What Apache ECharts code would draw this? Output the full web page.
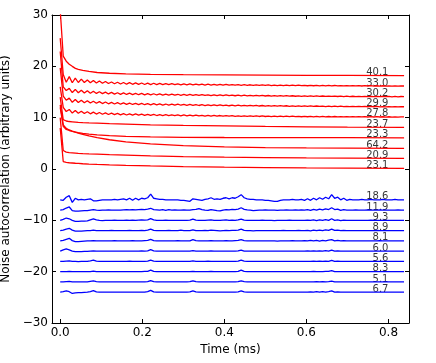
<!DOCTYPE html>
<html>
<head>
<meta charset="utf-8">
<script src="https://cdn.jsdelivr.net/npm/echarts@6/dist/echarts.min.js"></script>
<style>
  html, body { margin: 0; padding: 0; background: #fff; }
  #chart { width: 436px; height: 363px; }
</style>
</head>
<body>
<div id="chart"></div>
<script>
// dense traces are sampled every sampleStep ms (115 samples)
const sampleStep = 0.00735;
const xTicks = [0, 0.2, 0.4, 0.6, 0.8];

const redOffsets = [18, 16, 14, 12, 10, 8, 6, 4, 2, 0];
const redLabels = ['40.1', '33.0', '30.2', '29.9', '27.8', '23.7', '23.3', '64.2', '20.9', '23.1'];
const blueOffsets = [-6, -8, -10, -12, -14, -16, -18, -20, -22, -24];
const blueLabels = ['18.6', '11.9', '9.3', '8.9', '8.1', '6.0', '5.6', '8.3', '5.1', '6.7'];

// smooth red traces: values at redTimes
const redTimes = [0, 0.00735, 0.0147, 0.022, 0.0294, 0.037, 0.044, 0.055, 0.07, 0.09, 0.12, 0.16, 0.22, 0.3, 0.4, 0.5, 0.6, 0.7, 0.838];
const red1 = [31, 22.0, 21.0, 20.4, 20.0, 19.6, 19.4, 19.2, 19.0, 18.8, 18.65, 18.55, 18.45, 18.38, 18.32, 18.28, 18.25, 18.22, 18.2];
const red6 = [14, 9.6, 9.35, 9.25, 9.2, 9.15, 9.1, 9.05, 9.0, 8.95, 8.85, 8.75, 8.6, 8.5, 8.4, 8.3, 8.22, 8.16, 8.1];
const red7 = [12, 8.3, 7.7, 7.5, 7.35, 7.2, 7.1, 6.95, 6.8, 6.65, 6.5, 6.35, 6.25, 6.18, 6.14, 6.12, 6.1, 6.1, 6.08];
const red8 = [12.5, 8.6, 7.9, 7.6, 7.4, 7.2, 7.0, 6.75, 6.45, 6.1, 5.7, 5.3, 4.9, 4.55, 4.3, 4.17, 4.1, 4.05, 4.0];
const red9 = [10, 3.6, 3.3, 3.2, 3.15, 3.1, 3.05, 3.0, 2.95, 2.9, 2.8, 2.7, 2.55, 2.42, 2.3, 2.22, 2.16, 2.12, 2.08];
const red10 = [8.0, 1.45, 1.3, 1.22, 1.17, 1.12, 1.08, 1.02, 0.96, 0.9, 0.82, 0.72, 0.6, 0.47, 0.35, 0.27, 0.2, 0.16, 0.13];

// oscillating red traces: height above their offset, dense samples
const red2 = [9.5, 2.4, 0.9, 2.0, 0.8, 1.7, 0.85, 1.5, 0.85, 1.35,
  0.8, 1.25, 0.75, 1.15, 0.7, 1.05, 0.65, 0.95, 0.6, 0.9,
  0.55, 0.85, 0.52, 0.82, 0.5, 0.78, 0.48, 0.76, 0.46, 0.72,
  0.45, 0.7, 0.44, 0.68, 0.43, 0.65, 0.42, 0.62, 0.42, 0.6,
  0.4, 0.58, 0.4, 0.56, 0.38, 0.55, 0.38, 0.53, 0.36, 0.52,
  0.36, 0.5, 0.34, 0.48, 0.34, 0.47, 0.32, 0.45, 0.32, 0.44,
  0.3, 0.42, 0.3, 0.41, 0.28, 0.4, 0.28, 0.38, 0.27, 0.37,
  0.26, 0.36, 0.26, 0.35, 0.25, 0.34, 0.24, 0.33, 0.24, 0.32,
  0.23, 0.31, 0.22, 0.3, 0.22, 0.3, 0.21, 0.29, 0.2, 0.28,
  0.2, 0.27, 0.19, 0.26, 0.19, 0.25, 0.18, 0.25, 0.18, 0.24,
  0.17, 0.23, 0.17, 0.23, 0.16, 0.22, 0.16, 0.22, 0.15, 0.21,
  0.15, 0.21, 0.15, 0.2, 0.17];
const red3 = [8.9, 2.0, 1.3, 1.7, 0.9, 1.5, 0.85, 1.35, 0.8, 1.25,
  0.75, 1.15, 0.72, 1.05, 0.68, 0.98, 0.62, 0.92, 0.58, 0.86,
  0.55, 0.82, 0.52, 0.78, 0.5, 0.74, 0.47, 0.72, 0.45, 0.68,
  0.44, 0.66, 0.42, 0.63, 0.4, 0.6, 0.39, 0.58, 0.37, 0.56,
  0.36, 0.54, 0.35, 0.52, 0.34, 0.5, 0.33, 0.48, 0.32, 0.46,
  0.31, 0.45, 0.3, 0.43, 0.29, 0.42, 0.28, 0.4, 0.27, 0.39,
  0.26, 0.37, 0.25, 0.36, 0.24, 0.35, 0.23, 0.33, 0.22, 0.32,
  0.21, 0.31, 0.2, 0.3, 0.19, 0.28, 0.18, 0.27, 0.17, 0.26,
  0.16, 0.25, 0.15, 0.24, 0.15, 0.23, 0.14, 0.22, 0.13, 0.21,
  0.13, 0.2, 0.12, 0.19, 0.11, 0.18, 0.11, 0.17, 0.1, 0.16,
  0.1, 0.16, 0.09, 0.15, 0.09, 0.14, 0.08, 0.14, 0.08, 0.13,
  0.07, 0.13, 0.07, 0.12, 0.1];
const red4 = [7.7, 2.2, 1.4, 1.8, 1.0, 1.55, 0.95, 1.4, 0.9, 1.3,
  0.85, 1.2, 0.8, 1.12, 0.75, 1.05, 0.7, 0.98, 0.66, 0.92,
  0.62, 0.88, 0.6, 0.84, 0.57, 0.8, 0.54, 0.77, 0.52, 0.74,
  0.5, 0.72, 0.48, 0.69, 0.46, 0.66, 0.45, 0.64, 0.43, 0.62,
  0.42, 0.6, 0.4, 0.57, 0.39, 0.55, 0.37, 0.53, 0.36, 0.51,
  0.35, 0.49, 0.34, 0.47, 0.33, 0.46, 0.32, 0.44, 0.31, 0.43,
  0.3, 0.41, 0.29, 0.4, 0.28, 0.38, 0.27, 0.37, 0.26, 0.35,
  0.25, 0.34, 0.24, 0.33, 0.23, 0.32, 0.22, 0.31, 0.21, 0.3,
  0.2, 0.29, 0.19, 0.28, 0.18, 0.27, 0.18, 0.26, 0.17, 0.25,
  0.16, 0.24, 0.16, 0.23, 0.15, 0.22, 0.15, 0.21, 0.14, 0.2,
  0.14, 0.19, 0.13, 0.19, 0.13, 0.18, 0.12, 0.17, 0.12, 0.17,
  0.11, 0.16, 0.11, 0.15, 0.13];
const red5 = [6.0, 2.0, 1.2, 1.6, 0.9, 1.4, 0.85, 1.25, 0.8, 1.15,
  0.75, 1.07, 0.7, 1.0, 0.66, 0.93, 0.62, 0.88, 0.58, 0.83,
  0.55, 0.79, 0.52, 0.75, 0.5, 0.72, 0.48, 0.69, 0.46, 0.66,
  0.44, 0.63, 0.42, 0.61, 0.41, 0.58, 0.39, 0.56, 0.38, 0.54,
  0.36, 0.52, 0.35, 0.5, 0.34, 0.48, 0.33, 0.46, 0.32, 0.45,
  0.31, 0.43, 0.3, 0.42, 0.29, 0.4, 0.28, 0.39, 0.27, 0.37,
  0.26, 0.36, 0.25, 0.35, 0.24, 0.34, 0.23, 0.33, 0.23, 0.32,
  0.22, 0.31, 0.21, 0.3, 0.2, 0.29, 0.2, 0.28, 0.19, 0.27,
  0.18, 0.26, 0.18, 0.25, 0.17, 0.25, 0.17, 0.24, 0.16, 0.23,
  0.16, 0.23, 0.15, 0.22, 0.15, 0.21, 0.14, 0.21, 0.14, 0.2,
  0.14, 0.2, 0.13, 0.19, 0.13, 0.19, 0.13, 0.18, 0.12, 0.18,
  0.12, 0.17, 0.12, 0.17, 0.15];

// blue traces: height above their offset, dense samples
const blue1 = [0, -0.1, 0.5, 0.8, -0.5, 0.3, 0, 0.1, 0, 0.1,
  0.2, -0.2, -0.2, -0.1, 0, 0, 0, 0, 0.1, 0,
  0.1, 0.2, 0, 0.3, -0.1, 0.3, 0, 0.3, 0.2, 0.4,
  1.1, 0.3, 0.2, 0.1, 0.1, 0, 0, 0, 0, 0,
  -0.1, -0.1, -0.2, -0.3, 0.2, 0.1, 0, -0.1, 0.1, 0.2,
  0.4, 0.1, 0.2, 0.1, 0.3, 0.4, 0.2, 0.4, 0.3, 0.6,
  1.0, 0.4, 0.2, 0.1, 0.1, 0, 0, 0, -0.1, -0.1,
  -0.2, -0.3, -0.3, -0.1, 0, 0, 0, 0.1, 0, 0,
  0.1, -0.1, 0.2, -0.1, 0.3, 0, 0.4, 0.1, 0.5, 0.2,
  1.0, 0.3, 0.5, 0, 0.3, -0.1, 0.1, 0, 0, 0,
  0.1, 0, 0, 0.1, 0, 0, 0, 0.1, 0, 0,
  0, 0.1, 0, 0, 0];
const blue2 = [0, 0.1, 0.4, 0.6, -0.1, -0.2, -0.2, -0.15, -0.1, -0.1,
  0, 0.1, 0, -0.05, 0, 0, 0.05, 0, 0, 0,
  0, 0.05, 0.1, 0.05, 0.1, 0.05, 0.1, 0.15, 0.1, 0.2,
  0.35, 0.1, 0.05, 0, 0.1, -0.05, 0.1, 0, 0.05, 0,
  0, 0.05, 0, 0, 0.1, 0.15, 0.3, 0.1, 0, -0.05,
  0.1, 0, -0.1, -0.15, 0, 0.1, 0.05, 0.15, 0.1, 0.2,
  0.45, 0.15, 0.05, 0, -0.1, -0.05, 0, 0, 0.05, 0,
  0, 0, -0.05, 0, 0, 0.05, 0, 0, 0.05, 0,
  0.05, 0, 0.1, -0.05, 0.15, 0, 0.2, 0.05, 0.25, 0.1,
  0.45, 0.1, 0.2, -0.05, 0.1, 0, 0, 0, 0.05, 0,
  0, 0, 0.05, 0, 0, 0, 0.05, 0, 0, 0,
  0, 0, 0.05, 0, 0];
const blue3 = [0, 0.2, 0.45, 0.3, 0, -0.2, -0.2, -0.15, -0.15, -0.1,
  0.1, 0.3, 0.1, 0, -0.05, 0, 0, 0, 0.05, 0,
  0, 0, 0.05, 0, 0.05, 0, 0.05, 0.1, 0.05, 0.1,
  0.35, 0.1, 0, 0, 0, 0.05, 0, 0, 0, 0,
  0, 0, 0, 0.05, 0.25, 0.05, 0, 0, 0, 0.05,
  0.1, 0, 0, 0, 0.05, 0.1, 0, 0.05, 0, 0.1,
  0.25, 0.05, 0, 0, 0, 0, 0, 0.05, 0, 0,
  0, -0.05, 0, 0, 0, 0, 0.05, 0, 0, 0,
  0, 0, 0.05, 0, 0.1, -0.05, 0.1, 0, 0.15, 0,
  0.3, 0, 0.1, -0.05, 0.05, 0, 0, 0, 0, 0,
  0, 0, 0, 0.05, 0, 0, 0, 0, 0, 0,
  0, 0, 0, 0, 0];
const blue4 = [0, 0.1, 0.3, 0.45, 0.1, -0.1, -0.1, -0.1, -0.05, 0,
  0, 0.1, 0, 0, 0, 0, 0, 0.05, 0, 0,
  0, 0, 0, 0.05, 0, 0, 0, 0.05, 0, 0.1,
  0.3, 0.05, 0, 0, 0, 0, 0.05, 0, 0, 0,
  0.1, 0, 0, 0, 0.15, 0, 0, 0, 0.05, 0,
  0.1, 0.05, 0, -0.05, 0, 0.05, 0, 0.05, 0.05, 0.1,
  0.3, 0.05, 0, 0, -0.05, 0, 0, 0, 0, 0,
  0, 0, 0, 0, 0.05, 0, 0, 0, 0, 0.05,
  0, 0, 0.05, -0.05, 0.1, 0, 0.1, 0, 0.15, 0.05,
  0.3, 0.05, 0.1, 0, 0.05, 0, 0, 0, 0, 0,
  0, 0, 0, 0, 0, 0.05, 0, 0, 0, 0,
  0, 0, 0, 0, 0];
const blue5 = [0, 0.1, 0.3, 0.5, 0.05, -0.15, -0.15, -0.1, -0.05, 0,
  0, 0.05, 0, 0, 0, 0, 0, 0, 0.05, 0,
  0, 0, 0, 0, 0.05, 0, 0, 0, 0.05, 0.1,
  0.3, 0.05, 0, 0, 0, 0, 0, 0, 0, 0.05,
  0, 0, 0, 0, 0.25, 0.05, 0, 0, 0, 0,
  0.05, 0, 0, 0, 0, 0.05, 0, 0, 0.05, 0.1,
  0.25, 0.05, 0, 0, 0, 0, 0, 0, 0, 0,
  0, 0, -0.05, 0, 0, 0, 0, 0.05, 0, 0,
  0, 0.05, 0, 0.1, 0, 0.1, -0.05, 0.1, 0, 0.15,
  0.25, 0, 0.1, 0, 0.05, 0, 0, 0, 0, 0,
  0, 0, 0, 0, 0, 0, 0.05, 0, 0, 0,
  0, 0, 0, 0, 0];
const blue6 = [0, 0.25, 0.45, 0.25, 0, -0.1, -0.1, -0.1, -0.05, -0.05,
  0, 0.05, 0, 0, 0, 0, 0, 0, 0, 0,
  0, 0, 0, 0, 0, 0, 0, 0.05, 0, 0.05,
  0.3, 0.05, 0, 0, 0, 0, 0, 0, 0, 0,
  0, 0, 0, 0, 0.1, 0, 0, 0, 0, 0,
  0.05, 0, 0, 0, 0, 0, 0, 0, 0, 0.05,
  0.2, 0, 0, 0, 0, 0, 0, 0, 0, 0,
  0, 0, 0, 0, 0, 0, 0, 0, 0, 0,
  0, 0, 0.05, 0, 0.05, 0, 0.05, 0, 0.1, 0,
  0.2, 0, 0.05, 0, 0, 0, 0, 0, 0, 0,
  0, 0, 0, 0, 0, 0, 0, 0, 0, 0,
  0, 0, 0, 0, 0];
const blue7 = [0, 0, 0.05, 0.1, 0, 0, -0.05, 0, 0, 0,
  0.1, 0.25, 0.05, 0, 0, 0, 0, 0, 0, 0,
  0, 0, 0, 0.05, 0, 0, 0, 0, 0, 0.05,
  0.25, 0.05, 0, 0, 0, 0, 0, 0, 0, 0,
  0, 0, 0, 0, 0.1, 0, 0, 0, 0, 0.05,
  0, 0, 0, 0, 0, 0, 0, 0, 0, 0.05,
  0.25, 0.05, 0, 0, 0, 0, 0, 0, 0, 0,
  0, 0, 0, 0, 0, 0, 0, 0, 0, 0,
  0, 0, 0, 0, 0.05, 0, 0.05, 0, 0.05, 0,
  0.2, 0, 0.05, 0, 0, 0, 0, 0, 0, 0,
  0, 0, 0, 0, 0, 0, 0, 0, 0, 0,
  0, 0, 0, 0, 0];
const blue8 = [0, 0, 0, 0.05, 0, 0, 0, 0, 0, 0,
  0, 0.1, 0, 0, 0, 0, 0, 0, 0, 0,
  0, 0, 0, 0, 0, 0, 0, 0, 0.05, 0.05,
  0.3, 0.05, 0, 0, 0, 0, 0, 0, 0, 0,
  0, 0, 0, 0, 0.05, 0, 0, 0, 0, 0,
  0.05, 0, 0, 0, 0, 0, 0, 0, 0, 0.05,
  0.3, 0.05, 0, 0, 0, 0, 0, 0, 0, 0,
  0, 0, 0, 0, 0, 0, 0, 0, 0, 0,
  0, 0, 0, 0, 0.05, 0, 0, 0, 0.05, 0.05,
  0.2, 0, 0, 0, 0, 0, 0, 0, 0, 0,
  0, 0, 0, 0, 0, 0, 0, 0, 0, 0,
  0, 0, 0, 0, 0];
const blue9 = [0, 0, 0.05, 0.1, 0, 0, 0, 0, 0, 0,
  0.1, 0.2, 0.05, 0, 0, 0, 0, 0, 0, 0,
  0, 0, 0, 0, 0, 0, 0, 0, 0, 0.05,
  0.25, 0.05, 0, 0, 0, 0, 0, 0, 0, 0,
  0, 0, 0, 0.05, 0.2, 0.05, 0, 0, 0, 0,
  0, 0, 0, 0, 0, 0, 0, 0, 0, 0.05,
  0.2, 0.05, 0, 0, 0, 0, 0, 0, 0, 0,
  0, 0, 0, 0, 0, 0, 0, 0, 0, 0,
  0, 0, 0, 0, 0, 0.05, 0, 0.05, 0, 0.05,
  0.15, 0, 0, 0, 0, 0, 0, 0, 0, 0,
  0, 0, 0, 0, 0, 0, 0, 0, 0, 0,
  0, 0, 0, 0, 0];
const blue10 = [0, 0.1, 0.25, 0.1, -0.25, -0.15, -0.1, -0.1, -0.05, 0,
  0.1, 0.3, 0.05, 0, 0, 0, 0, 0, 0, 0,
  0, 0, 0, 0, 0, 0, 0, 0, 0, 0.1,
  0.35, 0.05, 0, 0, 0, 0, 0, 0, 0, 0,
  0, 0, 0, 0.05, 0.25, 0.05, 0, 0, 0, 0,
  0, 0, 0, 0, 0, 0, 0, 0, 0, 0.05,
  0.25, 0.05, 0, 0, 0, 0, 0, 0, 0, 0,
  0, 0, 0, 0, 0, 0, 0, 0, 0, 0,
  0, 0, 0, 0.05, 0, 0.1, 0, 0.1, 0, 0.1,
  0.25, 0, 0.05, 0, 0, 0, 0, 0, 0, 0,
  0, 0, 0, 0, 0, 0, 0, 0, 0, 0,
  0, 0, 0, 0, 0];

const labelTime = 0.8;
const font = 'DejaVu Sans';

function denseTrace(dev, offset) {
  return dev.map((d, i) => [i * sampleStep, offset + d]);
}
function sparseTrace(vals) {
  return vals.map((v, i) => [redTimes[i], v]);
}

const redTraces = [
  sparseTrace(red1),
  denseTrace(red2, redOffsets[1]),
  denseTrace(red3, redOffsets[2]),
  denseTrace(red4, redOffsets[3]),
  denseTrace(red5, redOffsets[4]),
  sparseTrace(red6),
  sparseTrace(red7),
  sparseTrace(red8),
  sparseTrace(red9),
  sparseTrace(red10)
];
const blueRaw = [blue1, blue2, blue3, blue4, blue5, blue6, blue7, blue8, blue9, blue10];
const blueTraces = blueRaw.map((b, k) => denseTrace(b, blueOffsets[k]));

function lineSeries(data, color) {
  return {
    type: 'line',
    data: data,
    showSymbol: false,
    symbol: 'none',
    clip: true,
    lineStyle: { color: color, width: 1.3 },
    itemStyle: { color: color },
    silent: true,
    animation: false
  };
}

const series = [];
redTraces.forEach(t => series.push(lineSeries(t, '#ff0000')));
blueTraces.forEach(t => series.push(lineSeries(t, '#0000ff')));

// value labels sit on the end level of each trace
const labelData = [];
redTraces.forEach((t, k) => labelData.push([labelTime, t[t.length - 1][1], redLabels[k]]));
blueTraces.forEach((t, k) => labelData.push([labelTime, blueOffsets[k], blueLabels[k]]));

series.push({
  type: 'scatter',
  data: labelData,
  symbolSize: 0,
  silent: true,
  animation: false,
  label: {
    show: true,
    position: [0, 0],
    offset: [0, 2],
    align: 'right',
    verticalAlign: 'bottom',
    formatter: p => p.data[2],
    fontFamily: font,
    fontSize: 10,
    color: '#000'
  }
});

const minus = v => (v < 0 ? '\u2212' + (-v) : String(v));

const axisLine = { show: true, onZero: false, lineStyle: { color: '#000', width: 1 } };

const chart = echarts.init(document.getElementById('chart'), null, { renderer: 'canvas' });
chart.setOption({
  backgroundColor: '#fff',
  animation: false,
  grid: { left: 52, right: 27, top: 15, bottom: 40, containLabel: false, outerBoundsMode: 'none' },
  xAxis: [
    {
      type: 'value', min: -0.02, max: 0.85, position: 'bottom',
      axisLine: axisLine,
      axisTick: { show: true, inside: true, length: 4, customValues: xTicks, lineStyle: { color: '#000' } },
      axisLabel: { customValues: xTicks, formatter: v => v.toFixed(1), margin: 4, fontFamily: font, fontSize: 12, color: '#000' },
      splitLine: { show: false },
      name: 'Time (ms)', nameLocation: 'middle', nameGap: 20,
      nameTextStyle: { fontFamily: font, fontSize: 12, color: '#000' }
    },
    {
      type: 'value', min: -0.02, max: 0.85, position: 'top',
      axisLine: axisLine,
      axisTick: { show: true, inside: true, length: 4, customValues: xTicks, lineStyle: { color: '#000' } },
      axisLabel: { show: false },
      splitLine: { show: false }
    }
  ],
  yAxis: [
    {
      type: 'value', min: -30, max: 30, interval: 10, position: 'left',
      axisLine: axisLine,
      axisTick: { show: true, inside: true, length: 4, lineStyle: { color: '#000' } },
      axisLabel: { formatter: minus, margin: 4, fontFamily: font, fontSize: 12, color: '#000' },
      splitLine: { show: false },
      name: 'Noise autocorrelation (arbitrary units)', nameLocation: 'middle', nameGap: 31, nameRotate: 90,
      nameTextStyle: { fontFamily: font, fontSize: 12, color: '#000' }
    },
    {
      type: 'value', min: -30, max: 30, interval: 10, position: 'right',
      axisLine: axisLine,
      axisTick: { show: true, inside: true, length: 4, lineStyle: { color: '#000' } },
      axisLabel: { show: false },
      splitLine: { show: false }
    }
  ],
  series: series
});
</script>
</body>
</html>
